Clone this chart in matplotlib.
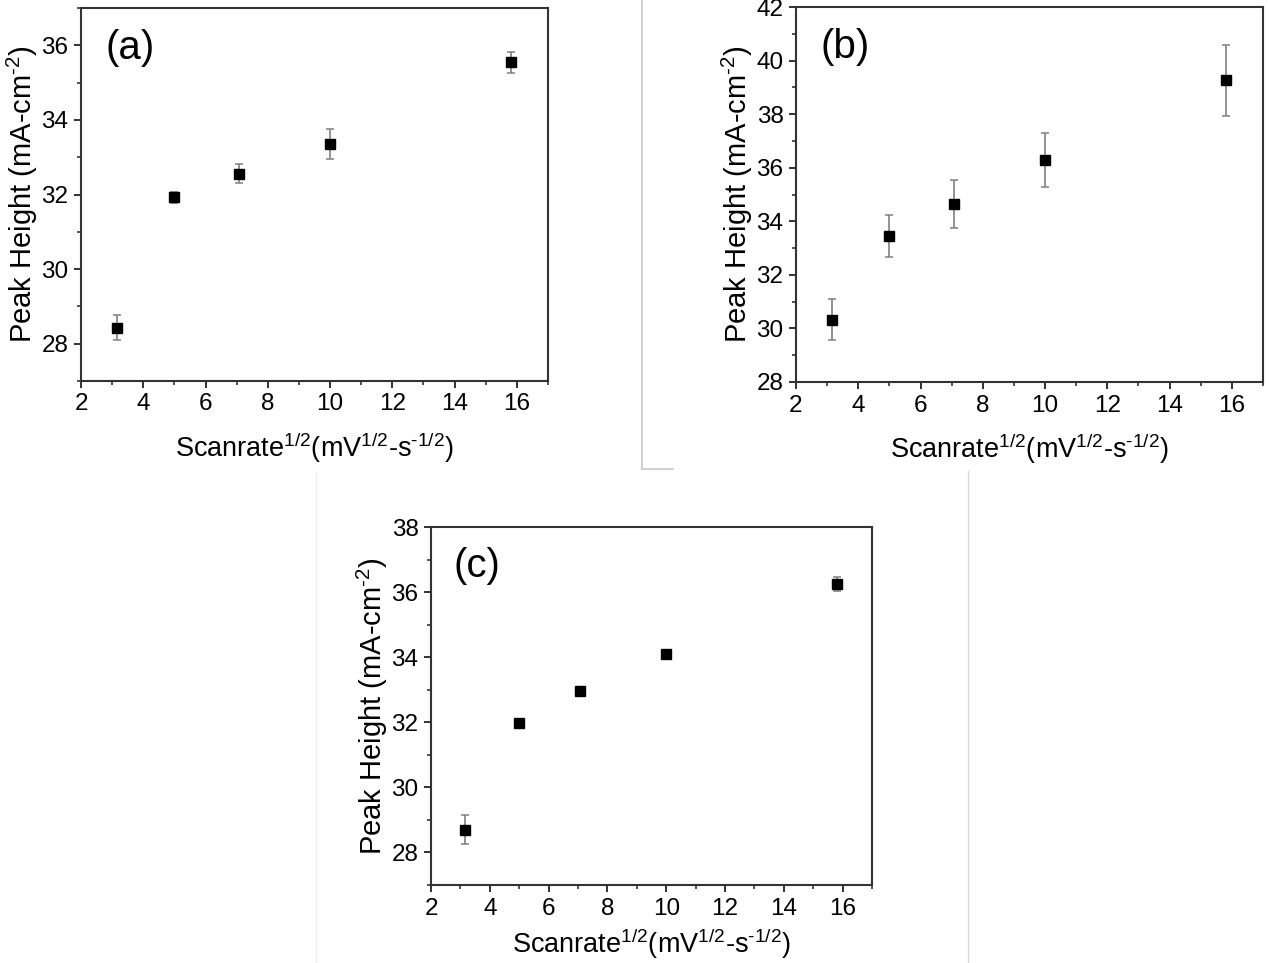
import numpy as np
import matplotlib
matplotlib.use("Agg")
import matplotlib.pyplot as plt
from matplotlib.lines import Line2D
from matplotlib.ticker import MultipleLocator, AutoMinorLocator

plt.rcParams["font.family"] = ["Liberation Sans", "DejaVu Sans"]
plt.rcParams["mathtext.fontset"] = "custom"
plt.rcParams["mathtext.rm"] = "Liberation Sans"
plt.rcParams["mathtext.it"] = "Liberation Sans"
plt.rcParams["mathtext.default"] = "regular"

# square root of scan rate (mV^1/2 s^-1/2)
scanrate_sqrt = [3.16, 5.0, 7.07, 10.0, 15.81]

# peak heights (mA cm^-2) and error bars for the three panels
peak_a = [28.43, 31.92, 32.56, 33.35, 35.54]
err_a = [0.33, 0.15, 0.26, 0.40, 0.29]

peak_b = [30.33, 33.46, 34.64, 36.29, 39.26]
err_b = [0.78, 0.78, 0.90, 1.00, 1.33]

peak_c = [28.70, 31.99, 32.96, 34.10, 36.24]
err_c = [0.45, 0.10, 0.10, 0.12, 0.22]

panel_labels = ["(a)", "(b)", "(c)"]
ylims = [(27, 37), (28, 42), (27, 38)]
xpads = [11, 11, 5]

W, H = 1269, 963
fig = plt.figure(figsize=(W / 100, H / 100), dpi=100)


def px_axes(left, top, right, bottom):
    return fig.add_axes([left / W, 1 - bottom / H, (right - left) / W, (bottom - top) / H])


axes = [
    px_axes(81, 8, 548, 381),
    px_axes(796, 7, 1263, 382),
    px_axes(431, 527, 872, 885),
]

# U+2010 keeps the short hyphen inside the superscripts (mathtext turns "-" into a minus)
xlabel = "Scanrate$^{1/2}$(mV$^{1/2}$-s$^{\u20101/2}$)"
ylabel = "Peak Height (mA-cm$^{\u20102}$)"

for ax, y, e, lab, yl, xp in zip(axes, [peak_a, peak_b, peak_c], [err_a, err_b, err_c],
                                 panel_labels, ylims, xpads):
    ax.errorbar(scanrate_sqrt, y, yerr=e, fmt="s", color="black", ms=6.8,
                ecolor="#808080", elinewidth=1.2, capsize=3, capthick=1.1)
    ax.set_xlim(2, 17)
    ax.set_ylim(*yl)
    ax.xaxis.set_major_locator(MultipleLocator(2))
    ax.yaxis.set_major_locator(MultipleLocator(2))
    ax.xaxis.set_minor_locator(AutoMinorLocator(2))
    ax.yaxis.set_minor_locator(AutoMinorLocator(2))
    ax.tick_params(which="major", direction="out", length=5, width=1.3, pad=4,
                   labelsize=17.5, colors="#222222", labelcolor="black")
    ax.tick_params(which="minor", direction="out", length=3, width=1.1, colors="#222222")
    for s in ax.spines.values():
        s.set_linewidth(1.5)
        s.set_color("#333333")
    ax.set_xlabel(xlabel, fontsize=19.5, labelpad=xp)
    ax.set_ylabel(ylabel, fontsize=21, labelpad=1)
    ax.text(0.052, 0.945, lab, transform=ax.transAxes, fontsize=29,
            ha="left", va="top")

# faint frame lines left over from the composed figure
grey = "#c8c8c8"
fig.add_artist(Line2D([642 / W, 642 / W], [1, 1 - 469 / H], color=grey, lw=1.2))
fig.add_artist(Line2D([642 / W, 673 / W], [1 - 469 / H, 1 - 469 / H], color=grey, lw=1.2))
fig.add_artist(Line2D([316 / W, 316 / W], [1 - 471 / H, 0], color="#eeeeee", lw=1))
fig.add_artist(Line2D([968 / W, 968 / W], [1 - 471 / H, 0], color="#d8d8d8", lw=1))

fig.savefig("out.png", dpi=100)
